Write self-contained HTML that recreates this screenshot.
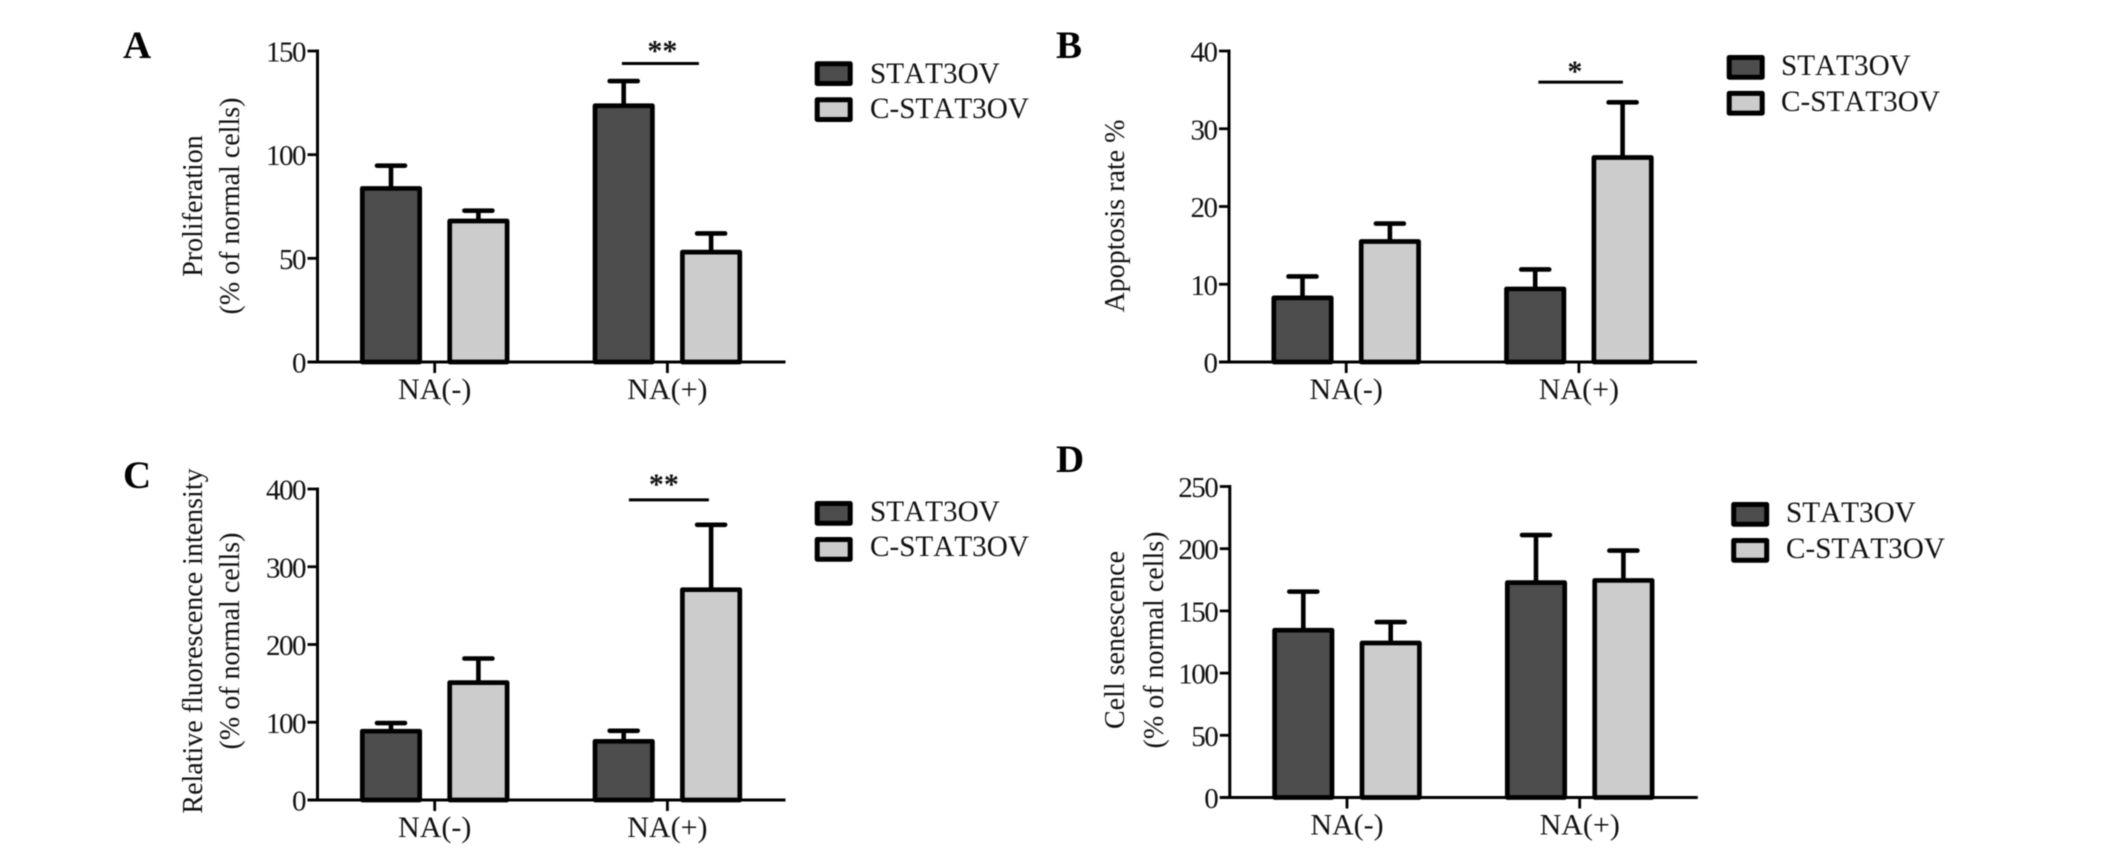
<!DOCTYPE html>
<html lang="en">
<head>
<meta charset="utf-8">
<title>STAT3OV bar charts</title>
<style>
html,body{margin:0;padding:0;background:#fff;}
svg{display:block;filter:blur(0.4px);}
text{font-family:"Liberation Serif",serif;fill:#111;}
.tick{font-size:29px;letter-spacing:-1.5px;text-anchor:end;}
.cat{font-size:30px;text-anchor:middle;font-kerning:none;}
.title{font-size:28px;text-anchor:middle;}
.leg{font-size:29.2px;font-kerning:none;}
.letter{font-size:39px;font-weight:bold;fill:#000;font-kerning:none;}
.star{font-size:30px;text-anchor:middle;font-weight:bold;}
.swatch{stroke:#000;stroke-width:5;stroke-linejoin:round;}
</style>
</head>
<body>
<svg id="figure" width="2126" height="855" viewBox="0 0 2126 855" xmlns="http://www.w3.org/2000/svg">
  <rect x="0" y="0" width="2126" height="855" fill="#fff"/>

  <g id="panel-a">
    <text class="letter" x="123" y="58">A</text>
    <text class="title" transform="translate(202,206) rotate(-90)">Proliferation</text>
    <text class="title" transform="translate(239,206) rotate(-90)">(% of normal cells)</text>
    <g>
      <rect class="swatch" x="817.2" y="63.8" width="33" height="19.7" fill="#4d4d4d"/>
      <text class="leg" x="870" y="83">STAT3OV</text>
      <rect class="swatch" x="817.2" y="99.8" width="33" height="19.7" fill="#ccc"/>
      <text class="leg" x="870" y="118">C-STAT3OV</text>
    </g>
  </g>

  <g id="panel-b">
    <text class="letter" x="1056" y="58">B</text>
    <text class="title" transform="translate(1124,216) rotate(-90)">Apoptosis rate %</text>
    <g>
      <rect class="swatch" x="1729.2" y="57.5" width="33" height="19.7" fill="#4d4d4d"/>
      <text class="leg" x="1781" y="75">STAT3OV</text>
      <rect class="swatch" x="1729.2" y="93.4" width="33" height="19.7" fill="#ccc"/>
      <text class="leg" x="1781" y="111">C-STAT3OV</text>
    </g>
  </g>

  <g id="panel-c">
    <text class="letter" x="123" y="488">C</text>
    <text class="title" transform="translate(202,641) rotate(-90)">Relative fluorescence intensity</text>
    <text class="title" transform="translate(239,641) rotate(-90)">(% of normal cells)</text>
    <g>
      <rect class="swatch" x="817.2" y="503.5" width="33" height="19.7" fill="#4d4d4d"/>
      <text class="leg" x="870" y="521">STAT3OV</text>
      <rect class="swatch" x="817.2" y="539.5" width="33" height="19.7" fill="#ccc"/>
      <text class="leg" x="870" y="556">C-STAT3OV</text>
    </g>
  </g>

  <g id="panel-d">
    <text class="letter" x="1056" y="472">D</text>
    <text class="title" transform="translate(1124,640) rotate(-90)">Cell senescence</text>
    <text class="title" transform="translate(1163,640) rotate(-90)">(% of normal cells)</text>
    <g>
      <rect class="swatch" x="1733.7" y="504.5" width="33" height="19.7" fill="#4d4d4d"/>
      <text class="leg" x="1786" y="522">STAT3OV</text>
      <rect class="swatch" x="1733.7" y="540.5" width="33" height="19.7" fill="#ccc"/>
      <text class="leg" x="1786" y="558">C-STAT3OV</text>
    </g>
  </g>
</svg>
<script>
// Shared categories and series
var categories = ["NA(-)", "NA(+)"];
var seriesNames = ["STAT3OV", "C-STAT3OV"];

// Panel A: Proliferation
var aTicks = [0, 50, 100, 150];
var aStat3ov = [83.7, 123.6];
var aCStat3ov = [68, 53];
var aStat3ovTop = [94.7, 135.5];
var aCStat3ovTop = [73, 62];
var aSigValue = 144;
var aSigLabel = "**";

// Panel B: Apoptosis rate
var bTicks = [0, 10, 20, 30, 40];
var bStat3ov = [8.25, 9.4];
var bCStat3ov = [15.5, 26.3];
var bStat3ovTop = [11, 11.9];
var bCStat3ovTop = [17.8, 33.4];
var bSigValue = 36;
var bSigLabel = "*";

// Panel C: Relative fluorescence intensity
var cTicks = [0, 100, 200, 300, 400];
var cStat3ov = [88.5, 75.5];
var cCStat3ov = [151, 270.5];
var cStat3ovTop = [99, 89];
var cCStat3ovTop = [182, 354];
var cSigValue = 386;
var cSigLabel = "**";

// Panel D: Cell senescence
var dTicks = [0, 50, 100, 150, 200, 250];
var dStat3ov = [134.5, 172.7];
var dCStat3ov = [124.2, 174.5];
var dStat3ovTop = [165.5, 211];
var dCStat3ovTop = [141, 198.5];

var NS = "http://www.w3.org/2000/svg";
var fills = ["#4d4d4d", "#cccccc"];

function make(parent, tag, attrs, content) {
  var el = document.createElementNS(NS, tag);
  for (var k in attrs) { el.setAttribute(k, attrs[k]); }
  if (content !== undefined) { el.textContent = content; }
  parent.appendChild(el);
  return el;
}

function drawPanel(panelId, layout, ticks, values, tops, sig) {
  var root = document.getElementById(panelId);
  var maxTick = ticks[ticks.length - 1];
  function yScale(v) { return layout.y0 - (v / maxTick) * (layout.y0 - layout.yTop); }
  function groupX(i) { return layout.x0 + 117.2 + i * 232.7; }

  var marks = make(root, "g", {});
  
  

  values.forEach(function (seriesValues, s) {
    seriesValues.forEach(function (v, i) {
      var cx = groupX(i) + (s === 0 ? -43.7 : 43.7);
      var yTopOfBar = yScale(v);
      var yErr = yScale(tops[s][i]);

      var stem = make(marks, "line", {x1: cx, x2: cx, y1: yTopOfBar, y2: yErr, stroke: "#000", "stroke-width": 4.6});
      
      

      var cap = make(marks, "line", {x1: cx - 14, x2: cx + 14, y1: yErr, y2: yErr, stroke: "#000", "stroke-width": 4.6, "stroke-linecap": "round"});
      
      

      var bar = make(marks, "rect", {
        x: cx - 28.7, y: yTopOfBar, width: 57.4, height: layout.y0 - yTopOfBar,
        fill: fills[s], stroke: "#000", "stroke-width": 4.7, "stroke-linejoin": "round"
      });
      
      
    });
  });

  var yAxis = make(root, "line", {x1: layout.x0, x2: layout.x0, y1: layout.yTop - 1.5, y2: layout.y0 + 1.5, stroke: "#000", "stroke-width": 3});
  
  

  var xAxis = make(root, "line", {x1: layout.x0 - 10, x2: layout.x0 + 468, y1: layout.y0, y2: layout.y0, stroke: "#000", "stroke-width": 3});
  
  

  ticks.forEach(function (t) {
    var y = yScale(t);
    var tickMark = make(root, "line", {x1: layout.x0 - 10, x2: layout.x0, y1: y, y2: y, stroke: "#000", "stroke-width": 2.8});
    
    

    var tickText = make(root, "text", {"class": "tick", x: layout.x0 - 12.5, y: y + 10.5}, String(t));
    
    
  });

  categories.forEach(function (c, i) {
    var x = groupX(i);
    var catTick = make(root, "line", {x1: x, x2: x, y1: layout.y0, y2: layout.y0 + 11, stroke: "#000", "stroke-width": 2.8});
    
    

    var catText = make(root, "text", {"class": "cat", x: x, y: layout.y0 + 37}, c);
    
    
  });

  if (sig) {
    var sy = yScale(sig.value);
    var base = groupX(1);
    var sigLine = make(root, "line", {x1: base + layout.sigLeft, x2: base + layout.sigRight, y1: sy, y2: sy, stroke: "#000", "stroke-width": 3});
    
    

    var sigText = make(root, "text", {"class": "star", x: base + layout.sigStar, y: sy + layout.sigDy}, sig.label);
    
    
  }
}

drawPanel("panel-a", {x0: 317.5, y0: 362, yTop: 51, sigLeft: -45.5, sigRight: 31.5, sigStar: -5, sigDy: -3},
  aTicks, [aStat3ov, aCStat3ov], [aStat3ovTop, aCStat3ovTop], {value: aSigValue, label: aSigLabel});
drawPanel("panel-b", {x0: 1229, y0: 362, yTop: 51, sigLeft: -40.5, sigRight: 44, sigStar: -4, sigDy: -1},
  bTicks, [bStat3ov, bCStat3ov], [bStat3ovTop, bCStat3ovTop], {value: bSigValue, label: bSigLabel});
drawPanel("panel-c", {x0: 317.5, y0: 800, yTop: 489, sigLeft: -38.5, sigRight: 41.5, sigStar: -3.5, sigDy: -6},
  cTicks, [cStat3ov, cCStat3ov], [cStat3ovTop, cCStat3ovTop], {value: cSigValue, label: cSigLabel});
drawPanel("panel-d", {x0: 1229.8, y0: 797.5, yTop: 486.5},
  dTicks, [dStat3ov, dCStat3ov], [dStat3ovTop, dCStat3ovTop], null);
</script>
</body>
</html>
